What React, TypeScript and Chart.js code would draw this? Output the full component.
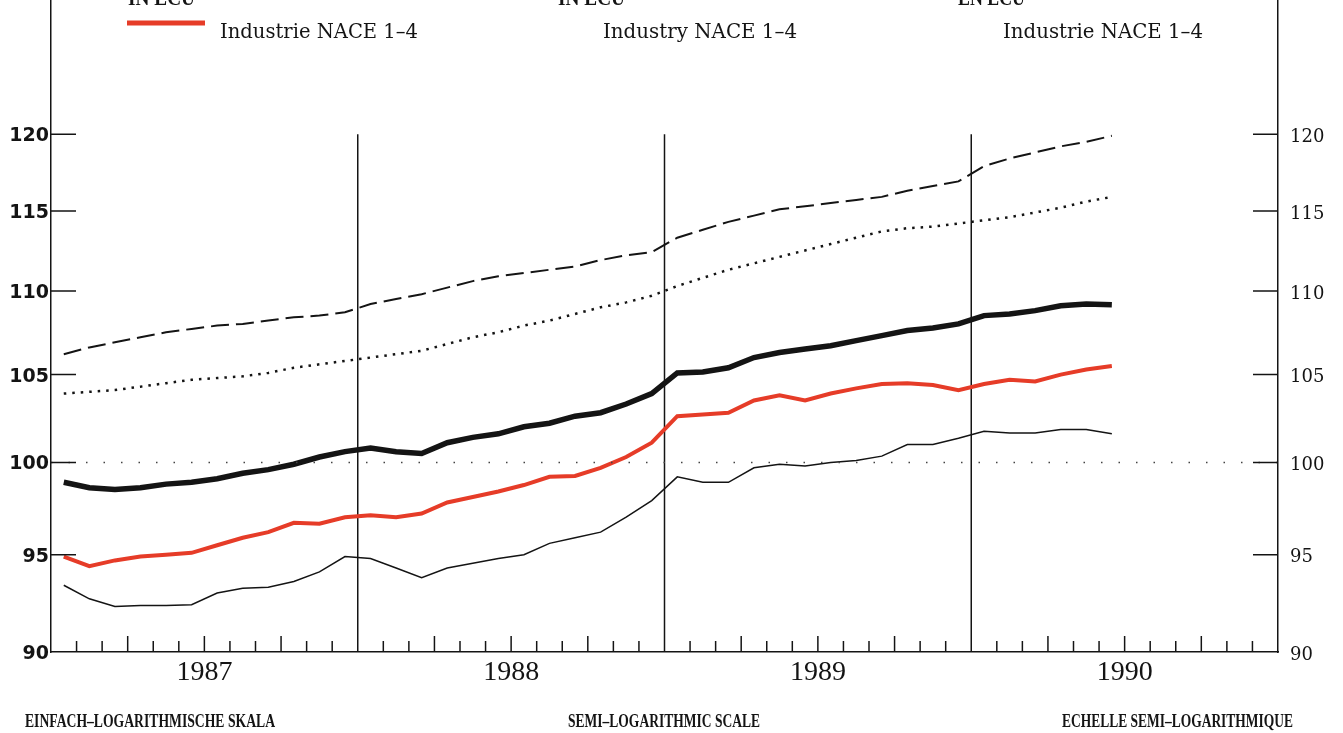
import React, { useEffect, useRef } from "react";
import { Chart, registerables } from "chart.js";

Chart.register(...registerables);

// ---------- data ----------
const yearLabels = ["1987", "1988", "1989", "1990"];
const monthsPerYear = 12;
const yTicks = [90, 95, 100, 105, 110, 115, 120];
const yMin = 90;
const yMax = 129.3;
const referenceLevel = 100;

const headerTexts = ["IN ECU", "IN ECU", "EN ECU"];
const legendTexts = ["Industrie NACE 1–4", "Industry NACE 1–4", "Industrie NACE 1–4"];
const captionTexts = [
  "EINFACH–LOGARITHMISCHE SKALA",
  "SEMI–LOGARITHMIC SCALE",
  "ECHELLE SEMI–LOGARITHMIQUE",
];

// monthly values, Jan 1987 – Jun 1990
const seriesDashed = [
  106.2, 106.6, 106.9, 107.2, 107.5, 107.7, 107.9, 108.0, 108.2, 108.4, 108.5, 108.7,
  109.2, 109.5, 109.8, 110.2, 110.6, 110.9, 111.1, 111.3, 111.5, 111.9, 112.2, 112.4,
  113.3, 113.8, 114.3, 114.7, 115.1, 115.3, 115.5, 115.7, 115.9, 116.3, 116.6, 116.9,
  117.9, 118.4, 118.8, 119.2, 119.5, 119.9,
];
const seriesDotted = [
  103.9, 104.0, 104.1, 104.3, 104.5, 104.7, 104.8, 104.9, 105.1, 105.4, 105.6, 105.8,
  106.0, 106.2, 106.4, 106.8, 107.2, 107.5, 107.9, 108.2, 108.6, 109.0, 109.3, 109.7,
  110.3, 110.8, 111.3, 111.7, 112.1, 112.5, 112.9, 113.3, 113.7, 113.9, 114.0, 114.2,
  114.4, 114.6, 114.9, 115.2, 115.6, 115.9,
];
const seriesThick = [
  98.9, 98.6, 98.5, 98.6, 98.8, 98.9, 99.1, 99.4, 99.6, 99.9, 100.3, 100.6,
  100.8, 100.6, 100.5, 101.1, 101.4, 101.6, 102.0, 102.2, 102.6, 102.8, 103.3, 103.9,
  105.1, 105.15, 105.4, 106.0, 106.3, 106.5, 106.7, 107.0, 107.3, 107.6, 107.75, 108.0,
  108.5, 108.6, 108.8, 109.1, 109.2, 109.15,
];
const seriesIndustry = [
  94.9, 94.4, 94.7, 94.9, 95.0, 95.1, 95.5, 95.9, 96.2, 96.7, 96.65, 97.0,
  97.1, 97.0, 97.2, 97.8, 98.1, 98.4, 98.75, 99.2, 99.25, 99.7, 100.3, 101.1,
  102.6, 102.7, 102.8, 103.5, 103.8, 103.5, 103.9, 104.2, 104.45, 104.5, 104.4, 104.1,
  104.45, 104.7, 104.6, 105.0, 105.3, 105.5,
];
const seriesThin = [
  93.4, 92.7, 92.3, 92.35, 92.35, 92.4, 93.0, 93.25, 93.3, 93.6, 94.1, 94.9,
  94.8, 94.3, 93.8, 94.3, 94.55, 94.8, 95.0, 95.6, 95.9, 96.2, 97.0, 97.9,
  99.2, 98.9, 98.9, 99.7, 99.9, 99.8, 100.0, 100.1, 100.35, 101.0, 101.0, 101.35,
  101.75, 101.65, 101.65, 101.85, 101.85, 101.6,
];

const totalMonths = yearLabels.length * monthsPerYear;
const toPoints = (arr: number[]) => arr.map((v, i) => ({ x: i + 0.5, y: v }));

const INK = "#141414";
const RED = "#e63c28";

function fitText(ctx: CanvasRenderingContext2D, text: string, x: number, y: number, w: number) {
  const m = ctx.measureText(text).width;
  ctx.save();
  ctx.translate(x, y);
  ctx.scale(w / m, 1);
  ctx.fillText(text, 0, 0);
  ctx.restore();
}

const decorPlugin = {
  id: "decor",
  beforeDatasetsDraw(chart: any) {
    const { ctx, scales } = chart;
    const x = scales.x;
    const y = scales.y;
    ctx.save();
    ctx.strokeStyle = INK;
    ctx.lineWidth = 1.5;
    for (let k = 1; k < yearLabels.length; k++) {
      const px = x.getPixelForValue(k * monthsPerYear);
      ctx.beginPath();
      ctx.moveTo(px, y.getPixelForValue(yMin));
      ctx.lineTo(px, y.getPixelForValue(yTicks[yTicks.length - 1]));
      ctx.stroke();
    }
    ctx.restore();
  },
  afterDraw(chart: any) {
    const { ctx, scales, chartArea } = chart;
    const x = scales.x;
    const y = scales.y;
    const { left, right, bottom } = chartArea;
    ctx.save();
    ctx.strokeStyle = INK;
    ctx.fillStyle = INK;
    ctx.lineWidth = 1.5;

    // y ticks (inward) both sides
    yTicks.forEach((v) => {
      if (v === yMin) return;
      const py = y.getPixelForValue(v);
      ctx.beginPath();
      ctx.moveTo(left, py);
      ctx.lineTo(left + 25, py);
      ctx.moveTo(right - 25, py);
      ctx.lineTo(right, py);
      ctx.stroke();
    });

    // month ticks at bottom
    for (let m = 1; m < totalMonths; m++) {
      if (m % monthsPerYear === 0) continue;
      const px = x.getPixelForValue(m);
      const len = m % 3 === 0 ? 16 : 11;
      ctx.beginPath();
      ctx.moveTo(px, bottom);
      ctx.lineTo(px, bottom - len);
      ctx.stroke();
    }

    // y labels
    ctx.textBaseline = "middle";
    ctx.font = 'bold 19px "DejaVu Sans"';
    ctx.textAlign = "right";
    yTicks.forEach((v) => {
      ctx.fillText(String(v), left - 2, y.getPixelForValue(v) + 2);
    });
    ctx.font = '18px "DejaVu Serif"';
    ctx.textAlign = "left";
    yTicks.forEach((v) => {
      ctx.fillText(String(v), right + 12, y.getPixelForValue(v) + 3);
    });

    // header texts (cut at top)
    ctx.textAlign = "left";
    ctx.textBaseline = "alphabetic";
    ctx.font = 'bold 22px "Liberation Serif"';
    const headerX = [128, 558, 958];
    headerTexts.forEach((t, i) => fitText(ctx, t, headerX[i], 5, 67));

    // legend swatch
    ctx.strokeStyle = RED;
    ctx.lineWidth = 5;
    ctx.beginPath();
    ctx.moveTo(127, 23);
    ctx.lineTo(205, 23);
    ctx.stroke();

    ctx.font = '20px "DejaVu Serif"';
    const legX = [220, 603, 1003];
    const legW = [198, 194, 200];
    legendTexts.forEach((t, i) => fitText(ctx, t, legX[i], 38, legW[i]));

    ctx.font = 'bold 18px "Liberation Serif"';
    const capX = [25, 568, 1062];
    const capW = [250, 192, 231];
    captionTexts.forEach((t, i) => fitText(ctx, t, capX[i], 727, capW[i]));

    ctx.restore();
  },
};

export default function App() {
  const ref = useRef<HTMLCanvasElement | null>(null);

  useEffect(() => {
    if (!ref.current) return;
    const chart = new Chart(ref.current, {
      type: "line",
      data: {
        datasets: [
          {
            data: [
              { x: 0, y: referenceLevel },
              { x: totalMonths, y: referenceLevel },
            ],
            borderColor: "#444",
            borderWidth: 1.5,
            borderDash: [1.5, 16],
            pointRadius: 0,
            yAxisID: "y",
          },
          {
            data: toPoints(seriesThin),
            borderColor: INK,
            borderWidth: 1.5,
            pointRadius: 0,
            yAxisID: "y",
          },
          {
            data: toPoints(seriesIndustry),
            borderColor: RED,
            borderWidth: 4,
            pointRadius: 0,
            yAxisID: "y",
          },
          {
            data: toPoints(seriesThick),
            borderColor: INK,
            borderWidth: 5.5,
            pointRadius: 0,
            yAxisID: "y",
          },
          {
            data: toPoints(seriesDotted),
            borderColor: INK,
            borderWidth: 2.5,
            borderDash: [2.5, 6],
            pointRadius: 0,
            yAxisID: "y",
          },
          {
            data: toPoints(seriesDashed),
            borderColor: INK,
            borderWidth: 2,
            borderDash: [18, 7],
            pointRadius: 0,
            yAxisID: "y",
          },
        ],
      },
      options: {
        responsive: false,
        animation: false,
        devicePixelRatio: 1,
        layout: { padding: 0 },
        plugins: { legend: { display: false }, tooltip: { enabled: false } },
        scales: {
          x: {
            type: "linear",
            min: 0,
            max: totalMonths,
            afterBuildTicks: (axis: any) => {
              axis.ticks = yearLabels.map((_, k) => ({ value: k * monthsPerYear + monthsPerYear / 2 }));
            },
            afterFit: (s: any) => {
              s.height = 81;
            },
            ticks: {
              autoSkip: false,
              maxRotation: 0,
              padding: 4,
              color: INK,
              font: { family: "Liberation Serif", size: 28 },
              callback: (value: any) => yearLabels[Math.floor(Number(value) / monthsPerYear)],
            },
            grid: { display: false, drawTicks: false },
            border: { display: true, color: INK, width: 1.5 },
          },
          y: {
            type: "logarithmic",
            position: "left",
            min: yMin,
            max: yMax,
            ticks: { display: false },
            grid: { display: false, drawTicks: false },
            border: { display: true, color: INK, width: 1.5 },
            afterFit: (s: any) => {
              s.width = 51;
            },
          },
          y2: {
            type: "logarithmic",
            position: "right",
            min: yMin,
            max: yMax,
            ticks: { display: false },
            grid: { display: false, drawTicks: false },
            border: { display: true, color: INK, width: 1.5 },
            afterFit: (s: any) => {
              s.width = 65;
            },
          },
        },
      } as any,
      plugins: [decorPlugin],
    });
    return () => chart.destroy();
  }, []);

  return (
    <div style={{ position: "absolute", left: 0, top: 0, width: 1343, height: 733, background: "#fff" }}>
      <canvas ref={ref} width={1343} height={733} style={{ display: "block" }} />
    </div>
  );
}
